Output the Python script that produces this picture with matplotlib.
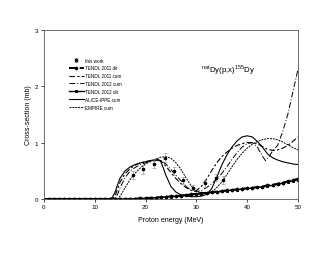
import numpy as np
import matplotlib
matplotlib.use("Agg")
import matplotlib.pyplot as plt

plt.rcParams['font.family'] = ['Liberation Sans', 'DejaVu Sans']
plt.rcParams['mathtext.fontset'] = 'custom'
plt.rcParams['mathtext.rm'] = 'Liberation Sans'

# ---- data ----
# this work
exp_e = [17.5, 19.6, 21.7, 23.8, 25.6, 27.3, 29.3, 31.8, 33.8, 35.3]
exp_s = [0.42, 0.53, 0.62, 0.73, 0.50, 0.33, 0.20, 0.28, 0.38, 0.33]
exp_err = [0.07, 0.08, 0.08, 0.08, 0.07, 0.06, 0.05, 0.06, 0.07, 0.07]

# TENDL direct (markers every 1 MeV)
dir_e = list(range(1, 51))
t11_dir = [0]*17 + [0.005, 0.01, 0.015, 0.02, 0.025, 0.03, 0.04, 0.045, 0.05,
                    0.06, 0.07, 0.08, 0.09, 0.10, 0.11, 0.12, 0.13, 0.14, 0.15,
                    0.16, 0.17, 0.18, 0.19, 0.20, 0.21, 0.22, 0.24, 0.25, 0.27,
                    0.29, 0.31, 0.33, 0.36]
t12_dir = [0]*17 + [0.004, 0.008, 0.012, 0.018, 0.022, 0.028, 0.035, 0.04, 0.047,
                    0.055, 0.065, 0.075, 0.085, 0.095, 0.105, 0.115, 0.125, 0.135, 0.145,
                    0.155, 0.165, 0.175, 0.185, 0.195, 0.205, 0.215, 0.23, 0.24, 0.26,
                    0.28, 0.30, 0.32, 0.34]

# TENDL 2011 cumulative
t11_e = [0, 13.5, 14, 14.5, 15, 16, 17, 18, 19, 20, 21, 22, 23, 24, 25, 26, 27, 28, 29,
         30, 31, 32, 33, 34, 35, 36, 37, 38, 39, 40, 41, 42, 43, 44, 45, 46, 47, 48, 49, 50]
t11_cum = [0, 0, 0.05, 0.18, 0.30, 0.45, 0.54, 0.60, 0.64, 0.66, 0.68, 0.70, 0.68, 0.58,
           0.47, 0.36, 0.27, 0.20, 0.15, 0.15, 0.22, 0.35, 0.50, 0.64, 0.75, 0.83, 0.90,
           0.95, 0.98, 1.00, 1.00, 0.98, 0.93, 0.88, 0.86, 0.87, 0.90, 0.95, 1.02, 1.10]

# TENDL 2012 cumulative
t12_e = [0, 14, 14.5, 15, 16, 17, 18, 19, 20, 21, 22, 23, 24, 25, 26, 27, 28, 29, 30,
         31, 32, 33, 34, 35, 36, 37, 38, 39, 40, 41, 42, 43, 43.6, 44.3, 45, 46, 47, 48, 49, 50]
t12_cum = [0, 0, 0.08, 0.20, 0.38, 0.50, 0.56, 0.61, 0.64, 0.66, 0.68, 0.68, 0.62, 0.52,
           0.42, 0.32, 0.22, 0.15, 0.13, 0.15, 0.20, 0.27, 0.35, 0.45, 0.57, 0.70, 0.82,
           0.92, 0.98, 1.00, 0.92, 0.76, 0.68, 0.75, 0.85, 0.95, 1.20, 1.50, 1.90, 2.30]

# ALICE-IPPE cumulative
alice_e = [0, 13, 13.5, 14, 14.5, 15, 16, 17, 18, 19, 20, 21, 22, 22.5, 23, 23.5, 24, 25,
           26, 27, 28, 29, 30, 31, 32, 33, 34, 35, 36, 37, 38, 39, 40, 41, 42, 43, 44, 45,
           46, 47, 48, 49, 50]
alice_cum = [0, 0, 0.03, 0.12, 0.25, 0.37, 0.50, 0.57, 0.61, 0.64, 0.66, 0.68, 0.70, 0.70,
             0.66, 0.55, 0.42, 0.22, 0.12, 0.07, 0.05, 0.04, 0.04, 0.05, 0.08, 0.18, 0.38,
             0.60, 0.78, 0.92, 1.03, 1.10, 1.12, 1.10, 1.02, 0.92, 0.80, 0.73, 0.69, 0.66,
             0.64, 0.62, 0.61]

# EMPIRE cumulative
emp_e = [0, 14.5, 15, 16, 17, 18, 19, 20, 21, 22, 23, 24, 25, 26, 27, 28, 29, 30, 31, 32,
         33, 34, 35, 36, 37, 38, 39, 40, 41, 42, 43, 44, 45, 46, 47, 48, 49, 50]
emp_cum = [0, 0, 0.05, 0.20, 0.35, 0.46, 0.55, 0.62, 0.67, 0.71, 0.74, 0.75, 0.72, 0.64,
           0.52, 0.37, 0.23, 0.14, 0.10, 0.09, 0.12, 0.20, 0.30, 0.43, 0.57, 0.70, 0.81,
           0.90, 0.97, 1.02, 1.05, 1.07, 1.07, 1.05, 1.01, 0.96, 0.91, 0.87]

# ---- plot ----
fig = plt.figure(figsize=(3.3, 2.55), dpi=100)
ax = fig.add_axes([0.133, 0.216, 0.77, 0.663])

ax.errorbar(exp_e, exp_s, yerr=exp_err, fmt='o', color='black', ms=1.6,
            ecolor='#888888', elinewidth=0.4, capsize=1.2, capthick=0.4,
            label='this work', zorder=5)
ax.plot(dir_e, t11_dir, color='black', lw=1.4, ls=(0, (4, 1.5)), marker='D', ms=1.4,
        label='TENDL 2011 dir')
ax.plot(t11_e, t11_cum, color='black', lw=0.8, ls=(0, (5, 2, 2, 2)),
        label='TENDL 2011 cum')
ax.plot(t12_e, t12_cum, color='black', lw=0.7, ls=(0, (6, 2, 1, 2)),
        label='TENDL 2012 cum')
ax.plot(dir_e, t12_dir, color='black', lw=1.0, marker='s', ms=1.2,
        label='TENDL 2012 dir')
ax.plot(alice_e, alice_cum, color='black', lw=0.8, label='ALICE-IPPE cum')
ax.plot(emp_e, emp_cum, color='black', lw=0.7, ls=(0, (2, 1)), label='EMPIRE cum')

ax.text(31.0, 2.3, r'$^{\mathrm{nat}}$Dy(p,x)$^{\mathrm{155}}$Dy', fontsize=5.7, va='center')

ax.set_xlim(0, 50)
ax.set_ylim(0, 3)
ax.set_xticks([0, 10, 20, 30, 40, 50])
ax.set_yticks([0, 1, 2, 3])
ax.tick_params(labelsize=4.5, length=2, width=0.5, pad=2)
for sp in ax.spines.values():
    sp.set_linewidth(0.6)
    sp.set_color('#555555')
ax.set_xlabel('Proton energy (MeV)', fontsize=5, labelpad=5)
ax.set_ylabel('Cross-section (mb)', fontsize=5, labelpad=2)

handles, labels = ax.get_legend_handles_labels()
order = [labels.index(l) for l in ['this work', 'TENDL 2011 dir', 'TENDL 2011 cum',
                                   'TENDL 2012 cum', 'TENDL 2012 dir',
                                   'ALICE-IPPE cum', 'EMPIRE cum']]
ax.legend([handles[i] for i in order], [labels[i] for i in order],
          loc='upper left', bbox_to_anchor=(0.09, 0.85), frameon=False, fontsize=3.3,
          handlelength=3.2, labelspacing=0.62, handletextpad=0.3, borderpad=0)

fig.savefig('out.png', dpi=100)
